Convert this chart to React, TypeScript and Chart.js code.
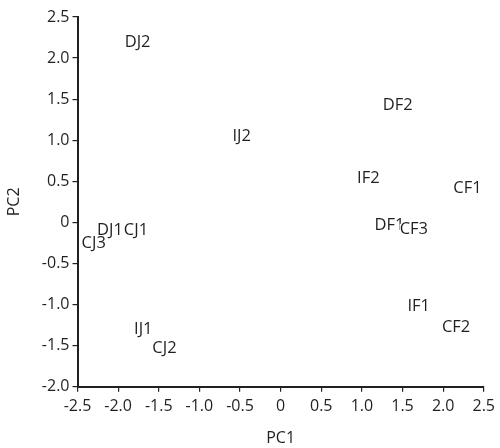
import React, { useEffect, useRef } from "react";
import { Chart, registerables } from "chart.js";

Chart.register(...registerables);

const sampleNames = ["DJ2", "IJ2", "DF2", "IF2", "CF1", "DF1", "CF3", "DJ1", "CJ1", "CJ3", "IJ1", "CJ2", "IF1", "CF2"];
const pc1Values = [-1.76, -0.48, 1.44, 1.08, 2.3, 1.34, 1.64, -2.1, -1.78, -2.3, -1.69, -1.43, 1.7, 2.16];
const pc2Values = [2.19, 1.05, 1.42, 0.54, 0.41, -0.04, -0.09, -0.1, -0.1, -0.26, -1.3, -1.53, -1.02, -1.28];
const xTicks = [-2.5, -2.0, -1.5, -1.0, -0.5, 0, 0.5, 1.0, 1.5, 2.0, 2.5];
const yTicks = [-2.0, -1.5, -1.0, -0.5, 0, 0.5, 1.0, 1.5, 2.0, 2.5];

const INK = "#231f20";
const FONT = "'Open Sans', 'DejaVu Sans', sans-serif";

const fmt = (v: number) => (v === 0 ? "0" : v.toFixed(1));

const labelPlugin = {
  id: "pointLabels",
  afterDatasetsDraw(chart: any) {
    const meta = chart.getDatasetMeta(0);
    const ctx = chart.ctx;
    ctx.save();
    ctx.font = `16.5px ${FONT}`;
    ctx.textAlign = "center";
    ctx.textBaseline = "middle";
    meta.data.forEach((pt: any, i: number) => {
      const text = sampleNames[i];
      const w = ctx.measureText(text).width;
      ctx.fillStyle = "#ffffff";
      ctx.fillRect(pt.x - w / 2, pt.y - 6, w, 12);
      ctx.fillStyle = INK;
      ctx.fillText(text, pt.x, pt.y);
    });
    ctx.restore();
  },
};

export default function App() {
  const ref = useRef<HTMLCanvasElement | null>(null);
  useEffect(() => {
    if (!ref.current) return;
    const chart = new Chart(ref.current, {
      type: "scatter",
      data: {
        datasets: [
          {
            data: pc1Values.map((x, i) => ({ x, y: pc2Values[i] })),
            pointRadius: 0,
            pointHoverRadius: 0,
            backgroundColor: INK,
          },
        ],
      },
      options: {
        animation: false,
        responsive: true,
        maintainAspectRatio: false,
        layout: { padding: { top: 17, right: 13, bottom: 0, left: 0 } },
        plugins: { legend: { display: false }, tooltip: { enabled: false } },
        scales: {
          x: {
            type: "linear",
            min: -2.5,
            max: 2.5,
            afterBuildTicks: (s: any) => {
              s.ticks = xTicks.map((v) => ({ value: v }));
            },
            afterFit: (s: any) => {
              s.height = 61.3;
            },
            ticks: {
              callback: (v: any) => fmt(Number(v)),
              color: INK,
              font: { family: FONT, size: 16 },
              padding: 5,
              maxRotation: 0,
              autoSkip: false,
            },
            grid: {
              drawOnChartArea: false,
              drawTicks: true,
              tickLength: 5,
              tickColor: INK,
              lineWidth: 1.2,
            },
            border: { display: true, color: INK, width: 2 },
            title: {
              display: true,
              text: "PC1",
              color: INK,
              font: { family: FONT, size: 16 },
              padding: { top: 0, bottom: 0 },
            },
          },
          y: {
            type: "linear",
            min: -2.0,
            max: 2.5,
            afterBuildTicks: (s: any) => {
              s.ticks = yTicks.map((v) => ({ value: v }));
            },
            afterFit: (s: any) => {
              s.width = 77.5;
            },
            ticks: {
              callback: (v: any) => fmt(Number(v)),
              color: INK,
              font: { family: FONT, size: 16 },
              padding: 3,
              autoSkip: false,
            },
            grid: {
              drawOnChartArea: false,
              drawTicks: true,
              tickLength: 5,
              tickColor: INK,
              lineWidth: 1.2,
            },
            border: { display: true, color: INK, width: 2 },
            title: {
              display: true,
              text: "PC2",
              color: INK,
              font: { family: FONT, size: 16 },
              padding: { top: 5, bottom: 5 },
            },
          },
        },
      },
      plugins: [labelPlugin],
    });
    return () => chart.destroy();
  }, []);
  return (
    <div style={{ position: "fixed", left: 0, top: 0, width: 500, height: 448, background: "#fff" }}>
      <canvas ref={ref} />
    </div>
  );
}
